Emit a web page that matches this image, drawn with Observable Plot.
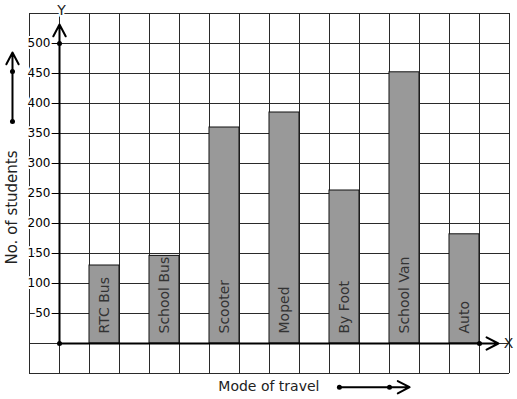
<!DOCTYPE html>
<html>
<head>
<meta charset="utf-8">
<script src="https://cdn.jsdelivr.net/npm/d3@7"></script>
<script src="https://cdn.jsdelivr.net/npm/@observablehq/plot@0.6"></script>
<style>
  html, body { margin: 0; padding: 0; background: white; }
</style>
</head>
<body>
<div id="chart"></div>
<script>
const modes = ["RTC Bus", "School Bus", "Scooter", "Moped", "By Foot", "School Van", "Auto"];
const students = [130, 146, 360, 385, 255, 452, 182];
const yTicks = [50, 100, 150, 200, 250, 300, 350, 400, 450, 500];
const xLabel = "Mode of travel";
const yLabel = "No. of students";

// bars sit in every other grid column, starting one column right of the Y axis
const bars = modes.map((m, i) => ({mode: m, value: students[i], x1: 1 + 2 * i, x2: 2 + 2 * i}));
const gridCols = d3.range(-1, 16);
const gridRows = d3.range(-50, 551, 50);

const ink = "#000";
const gridColor = "#2a2a2a";

const chart = Plot.plot({
  width: 517,
  height: 399,
  marginLeft: 59,
  marginRight: 8,
  marginTop: 13,
  marginBottom: 26,
  style: {fontFamily: "DejaVu Sans", fontSize: "12px", background: "white", overflow: "visible"},
  x: {type: "linear", domain: [0, 15], axis: null},
  y: {type: "linear", domain: [-50, 550], axis: null},
  marks: [
    // squared grid
    Plot.ruleX(gridCols, {x: d => d, stroke: gridColor, strokeWidth: 1}),
    Plot.ruleY(gridRows, {y: d => d, x1: -1, x2: 15, stroke: gridColor, strokeWidth: 1}),
    // bars
    Plot.rect(bars, {x1: "x1", x2: "x2", y1: 0, y2: "value", fill: "#999999", stroke: "#111", strokeWidth: 1}),
    // bar labels
    Plot.text(bars, {x: d => (d.x1 + d.x2) / 2, y: 0, dy: -10, text: "mode", rotate: -90,
      textAnchor: "start", fill: "#333", fontSize: 14}),
    // y axis ticks and labels
    Plot.axisY({ticks: yTicks, tickSize: 8, tickPadding: 1, fontSize: 12, label: null,
      color: ink, textStroke: "white", textStrokeWidth: 4}),
    // axes with arrows
    Plot.arrow([{x1: 0, y1: 0, x2: 14.63, y2: 0}], {x1: "x1", y1: "y1", x2: "x2", y2: "y2",
      stroke: ink, strokeWidth: 2, headLength: 10, headAngle: 55}),
    Plot.arrow([{x1: 0, y1: 0, x2: 0, y2: 531.7}], {x1: "x1", y1: "y1", x2: "x2", y2: "y2",
      stroke: ink, strokeWidth: 2, headLength: 10, headAngle: 55}),
    Plot.dot([{x: 0, y: 0}, {x: 0, y: 500}, {x: 14, y: 0}], {x: "x", y: "y", r: 2.5, fill: ink, stroke: null}),
    Plot.text(["X"], {x: 14.97, y: 0, text: d => d, fontSize: 14, fill: "#222"}),
    Plot.text(["Y"], {x: 0, y: 555, dx: 2, text: d => d, fontSize: 14, fill: "#222",
      stroke: "white", strokeWidth: 4}),
    // left annotation: label + arrow
    Plot.text([yLabel], {x: -1.567, y: 226.7, text: d => d, rotate: -90, fontSize: 15, fill: "#222"}),
    Plot.arrow([{x1: -1.567, y1: 370, x2: -1.567, y2: 485}], {x1: "x1", y1: "y1", x2: "x2", y2: "y2",
      stroke: ink, strokeWidth: 2, headLength: 10, headAngle: 55}),
    Plot.dot([{x: -1.567, y: 370}, {x: -1.567, y: 453.3}], {x: "x", y: "y", r: 2.5, fill: ink, stroke: null}),
    // bottom annotation: label + arrow
    Plot.text([xLabel], {x: 6.98, y: -71.7, text: d => d, fontSize: 14, fill: "#222"}),
    Plot.arrow([{x1: 9.33, y1: -72.8, x2: 11.67, y2: -72.8}], {x1: "x1", y1: "y1", x2: "x2", y2: "y2",
      stroke: ink, strokeWidth: 2, headLength: 10, headAngle: 55}),
    Plot.dot([{x: 9.33, y: -72.8}, {x: 11, y: -72.8}], {x: "x", y: "y", r: 2.5, fill: ink, stroke: null})
  ]
});
document.getElementById("chart").appendChild(chart);
</script>
</body>
</html>
